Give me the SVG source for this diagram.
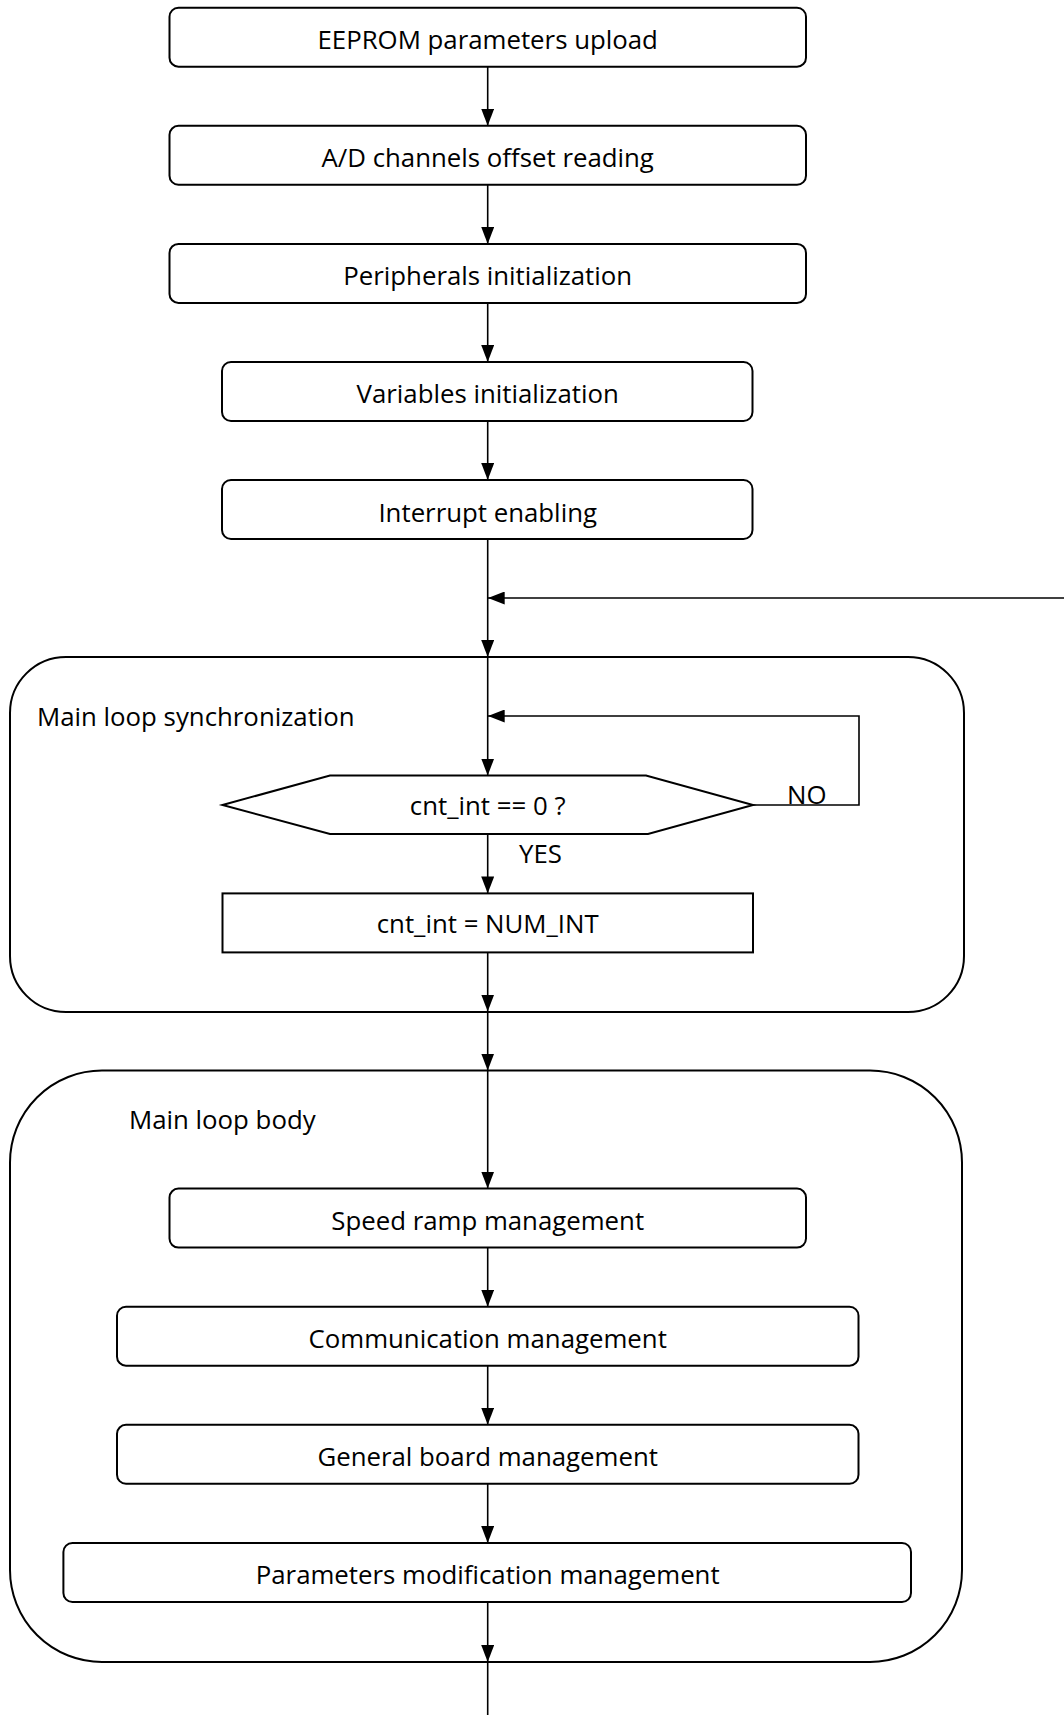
<svg xmlns="http://www.w3.org/2000/svg" width="1064" height="1715" viewBox="0 0 1064 1715">
<style>
.box{fill:#fff;stroke:#000;stroke-width:2}
.cont{fill:none;stroke:#000;stroke-width:2}
.t{font-family:"Open Sans","Liberation Sans",sans-serif;font-size:25.8px;fill:#000}
.c{text-anchor:middle}
.ln{fill:none;stroke:#000;stroke-width:1.6}
</style>
<defs>
<marker id="ah" viewBox="0 0 17 13" refX="17" refY="6.5" markerWidth="17" markerHeight="13" markerUnits="userSpaceOnUse" orient="auto">
<path d="M0,0 L17,6.5 L0,13 Z" fill="#000"/>
</marker>
</defs>
<rect width="1064" height="1715" fill="#fff"/>
<g id="container-sync">
<rect class="cont" x="10" y="657" width="954" height="355" rx="56" ry="56"/>
<text class="t" x="37" y="726">Main loop synchronization</text>
</g>
<g id="container-body">
<rect class="cont" x="10" y="1070.5" width="952" height="591.5" rx="92" ry="92"/>
<text class="t" x="129" y="1129">Main loop body</text>
</g>
<g id="connectors">
<line class="ln" x1="487.7" y1="66.7" x2="487.7" y2="125.8" marker-end="url(#ah)"/>
<line class="ln" x1="487.7" y1="184.8" x2="487.7" y2="243.9" marker-end="url(#ah)"/>
<line class="ln" x1="487.7" y1="302.9" x2="487.7" y2="362" marker-end="url(#ah)"/>
<line class="ln" x1="487.7" y1="421" x2="487.7" y2="480" marker-end="url(#ah)"/>
<line class="ln" x1="487.7" y1="539" x2="487.7" y2="657" marker-end="url(#ah)"/>
<line class="ln" x1="1064" y1="598" x2="487.7" y2="598" marker-end="url(#ah)"/>
<line class="ln" x1="487.7" y1="657" x2="487.7" y2="775.5" marker-end="url(#ah)"/>
<path class="ln" d="M753,805 H859 V716 H487.7" marker-end="url(#ah)"/>
<line class="ln" x1="487.7" y1="834" x2="487.7" y2="893.4" marker-end="url(#ah)"/>
<line class="ln" x1="487.7" y1="952.4" x2="487.7" y2="1011.5" marker-end="url(#ah)"/>
<line class="ln" x1="487.7" y1="1011.5" x2="487.7" y2="1070.5" marker-end="url(#ah)"/>
<line class="ln" x1="487.7" y1="1070.5" x2="487.7" y2="1188.6" marker-end="url(#ah)"/>
<line class="ln" x1="487.7" y1="1247.7" x2="487.7" y2="1306.7" marker-end="url(#ah)"/>
<line class="ln" x1="487.7" y1="1365.8" x2="487.7" y2="1424.8" marker-end="url(#ah)"/>
<line class="ln" x1="487.7" y1="1483.9" x2="487.7" y2="1543" marker-end="url(#ah)"/>
<line class="ln" x1="487.7" y1="1602" x2="487.7" y2="1662" marker-end="url(#ah)"/>
<line class="ln" x1="487.7" y1="1662" x2="487.7" y2="1715"/>
<text class="t" x="787" y="804">NO</text>
<text class="t" x="519" y="863">YES</text>
</g>
<g id="n-eeprom">
<rect class="box" x="169.5" y="7.7" width="636.5" height="59" rx="9"/>
<text class="t c" x="487.7" y="49">EEPROM parameters upload</text>
</g>
<g id="n-ad">
<rect class="box" x="169.5" y="125.8" width="636.5" height="59" rx="9"/>
<text class="t c" x="487.7" y="167">A/D channels offset reading</text>
</g>
<g id="n-periph">
<rect class="box" x="169.5" y="243.9" width="636.5" height="59" rx="9"/>
<text class="t c" x="487.7" y="285">Peripherals initialization</text>
</g>
<g id="n-vars">
<rect class="box" x="222" y="362" width="530.5" height="59" rx="9"/>
<text class="t c" x="487.7" y="403">Variables initialization</text>
</g>
<g id="n-irq">
<rect class="box" x="222" y="480" width="530.5" height="59" rx="9"/>
<text class="t c" x="487.7" y="521.5">Interrupt enabling</text>
</g>
<g id="n-decision">
<polygon class="box" points="222.5,805 330,775.5 646,775.5 753,805 648,834 330,834"/>
<text class="t c" x="487.7" y="815">cnt_int == 0 ?</text>
</g>
<g id="n-reset">
<rect class="box" x="222.5" y="893.4" width="530.5" height="59"/>
<text class="t c" x="487.7" y="933">cnt_int = NUM_INT</text>
</g>
<g id="n-speed">
<rect class="box" x="169.5" y="1188.6" width="636.5" height="59" rx="9"/>
<text class="t c" x="487.7" y="1230">Speed ramp management</text>
</g>
<g id="n-comm">
<rect class="box" x="117" y="1306.7" width="741.5" height="59" rx="9"/>
<text class="t c" x="487.7" y="1348">Communication management</text>
</g>
<g id="n-general">
<rect class="box" x="117" y="1424.8" width="741.5" height="59" rx="9"/>
<text class="t c" x="487.7" y="1466">General board management</text>
</g>
<g id="n-params">
<rect class="box" x="63.4" y="1543" width="847.6" height="59" rx="9"/>
<text class="t c" x="487.7" y="1584">Parameters modification management</text>
</g>
</svg>
